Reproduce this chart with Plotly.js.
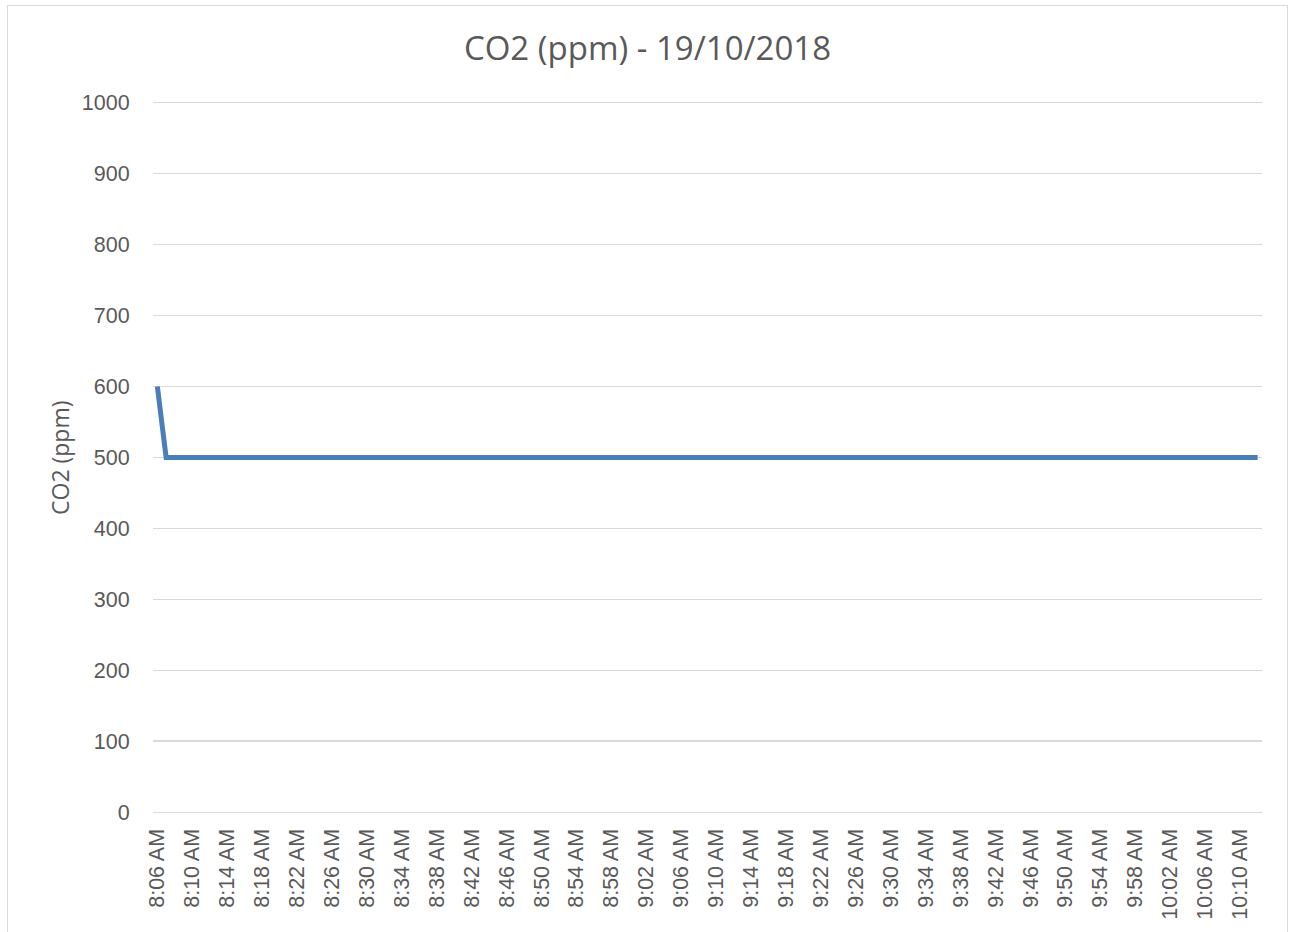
<!DOCTYPE html>
<html>
<head>
<meta charset="utf-8">
<script src="https://cdn.plot.ly/plotly-3.0.1.min.js"></script>
<style>
html,body{margin:0;padding:0;background:#fff;}
#frame{position:absolute;left:7px;top:5px;width:1281px;height:940px;border:1.5px solid #d9d9d9;box-sizing:border-box;}
#chart{position:absolute;left:0;top:0;width:1295px;height:932px;}
</style>
</head>
<body>
<div id="frame"></div>
<div id="chart"></div>
<script>
const times = [
"8:06 AM","8:07 AM","8:08 AM","8:09 AM","8:10 AM","8:11 AM","8:12 AM","8:13 AM","8:14 AM","8:15 AM",
"8:16 AM","8:17 AM","8:18 AM","8:19 AM","8:20 AM","8:21 AM","8:22 AM","8:23 AM","8:24 AM","8:25 AM",
"8:26 AM","8:27 AM","8:28 AM","8:29 AM","8:30 AM","8:31 AM","8:32 AM","8:33 AM","8:34 AM","8:35 AM",
"8:36 AM","8:37 AM","8:38 AM","8:39 AM","8:40 AM","8:41 AM","8:42 AM","8:43 AM","8:44 AM","8:45 AM",
"8:46 AM","8:47 AM","8:48 AM","8:49 AM","8:50 AM","8:51 AM","8:52 AM","8:53 AM","8:54 AM","8:55 AM",
"8:56 AM","8:57 AM","8:58 AM","8:59 AM","9:00 AM","9:01 AM","9:02 AM","9:03 AM","9:04 AM","9:05 AM",
"9:06 AM","9:07 AM","9:08 AM","9:09 AM","9:10 AM","9:11 AM","9:12 AM","9:13 AM","9:14 AM","9:15 AM",
"9:16 AM","9:17 AM","9:18 AM","9:19 AM","9:20 AM","9:21 AM","9:22 AM","9:23 AM","9:24 AM","9:25 AM",
"9:26 AM","9:27 AM","9:28 AM","9:29 AM","9:30 AM","9:31 AM","9:32 AM","9:33 AM","9:34 AM","9:35 AM",
"9:36 AM","9:37 AM","9:38 AM","9:39 AM","9:40 AM","9:41 AM","9:42 AM","9:43 AM","9:44 AM","9:45 AM",
"9:46 AM","9:47 AM","9:48 AM","9:49 AM","9:50 AM","9:51 AM","9:52 AM","9:53 AM","9:54 AM","9:55 AM",
"9:56 AM","9:57 AM","9:58 AM","9:59 AM","10:00 AM","10:01 AM","10:02 AM","10:03 AM","10:04 AM","10:05 AM",
"10:06 AM","10:07 AM","10:08 AM","10:09 AM","10:10 AM","10:11 AM","10:12 AM"
];
const co2 = [
600,500,500,500,500,500,500,500,500,500,
500,500,500,500,500,500,500,500,500,500,
500,500,500,500,500,500,500,500,500,500,
500,500,500,500,500,500,500,500,500,500,
500,500,500,500,500,500,500,500,500,500,
500,500,500,500,500,500,500,500,500,500,
500,500,500,500,500,500,500,500,500,500,
500,500,500,500,500,500,500,500,500,500,
500,500,500,500,500,500,500,500,500,500,
500,500,500,500,500,500,500,500,500,500,
500,500,500,500,500,500,500,500,500,500,
500,500,500,500,500,500,500,500,500,500,
500,500,500,500,500,500,500
];
const tickLabels = [
"8:06 AM","8:10 AM","8:14 AM","8:18 AM","8:22 AM","8:26 AM","8:30 AM","8:34 AM",
"8:38 AM","8:42 AM","8:46 AM","8:50 AM","8:54 AM","8:58 AM","9:02 AM","9:06 AM",
"9:10 AM","9:14 AM","9:18 AM","9:22 AM","9:26 AM","9:30 AM","9:34 AM","9:38 AM",
"9:42 AM","9:46 AM","9:50 AM","9:54 AM","9:58 AM","10:02 AM","10:06 AM","10:10 AM"
];
const yTicks = [0,100,200,300,400,500,600,700,800,900,1000];
const titleText = "CO2 (ppm) - 19/10/2018";
const yTitle = "CO2 (ppm)";

const trace = {
  x: times, y: co2, type: 'scatter', mode: 'lines',
  line: {color: '#4a7ebb', width: 5, shape: 'linear'},
  hoverinfo: 'x+y'
};
const layout = {
  width: 1295, height: 932,
  paper_bgcolor: 'rgba(0,0,0,0)', plot_bgcolor: 'rgba(0,0,0,0)',
  margin: {l: 153, r: 33, t: 100, b: 120, pad: 0},
  showlegend: false,
  title: {text: titleText, x: 0.5, xanchor: 'center', y: 0.948, yanchor: 'middle',
          font: {family: 'Open Sans, sans-serif', size: 33, color: '#595959'}},
  xaxis: {
    type: 'category', range: [-0.5, times.length - 0.5],
    tickmode: 'array', tickvals: tickLabels, ticktext: tickLabels,
    tickangle: -90, showgrid: false, zeroline: false,
    showline: true, linecolor: '#d9d9d9', linewidth: 1.3,
    ticks: 'outside', ticklen: 7, tickcolor: 'rgba(0,0,0,0)',
    tickfont: {family: 'Liberation Sans, Arial, sans-serif', size: 21.5, color: '#595959'},
    fixedrange: true
  },
  yaxis: {
    range: [0, 1004], tickmode: 'array', tickvals: yTicks,
    showgrid: true, gridcolor: '#d9d9d9', gridwidth: 1.3, zeroline: false, showline: false,
    ticks: 'outside', ticklen: 18, tickcolor: 'rgba(0,0,0,0)',
    tickfont: {family: 'Liberation Sans, Arial, sans-serif', size: 21.5, color: '#595959'},
    fixedrange: true
  },
  annotations: [{
    text: yTitle, textangle: -90, showarrow: false,
    xref: 'paper', yref: 'paper', x: (60 - 153) / 1109, y: (812 - 458) / 712,
    xanchor: 'center', yanchor: 'middle',
    font: {family: 'Open Sans, sans-serif', size: 23, color: '#595959'}
  }]
};
Plotly.newPlot('chart', [trace], layout, {displayModeBar: false, staticPlot: true});
</script>
</body>
</html>
